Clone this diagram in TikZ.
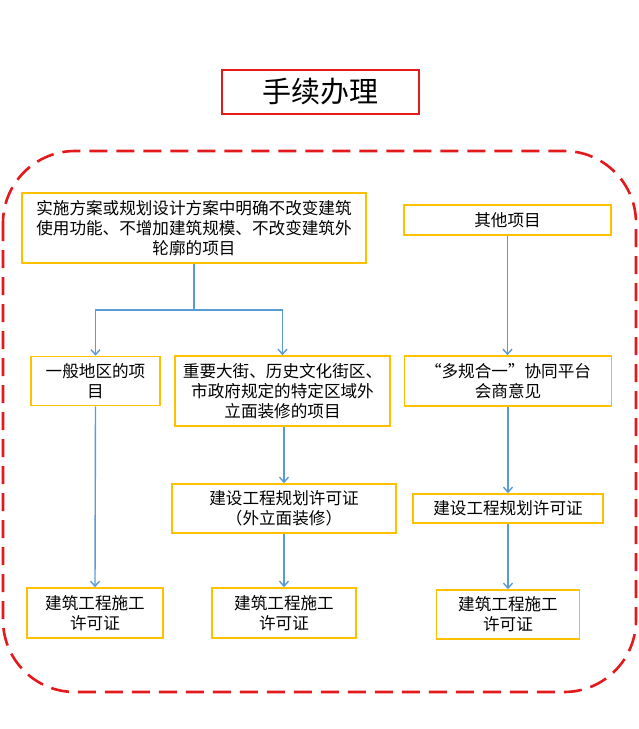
\documentclass[tikz,border=0pt]{standalone}
\usepackage{fontspec}
\newfontfamily\cjk{Noto Sans CJK SC}
\usepackage{tikz}
\usetikzlibrary{positioning,arrows.meta,calc}
\definecolor{boxgold}{HTML}{FFC000}
\definecolor{flowblue}{HTML}{5B9BD5}
\definecolor{framered}{HTML}{E3191C}

\begin{document}
\begin{tikzpicture}[x=1pt,y=-1pt,
    font=\cjk\fontsize{16.6}{20}\selectfont,
    stepbox/.style={draw=boxgold, line width=1.6pt, fill=white, align=center, inner sep=2pt},
    flow/.style={draw=flowblue, line width=1.4pt, -{Straight Barb[length=5pt,width=9pt]}},
    link/.style={draw=flowblue, line width=1.4pt}]
    \useasboundingbox (0,0) rectangle (639,729);
    % outer frame and title
    \draw[framered, line width=2.6pt, dash pattern=on 18pt off 9pt, rounded corners=72pt] (3,151) rectangle (636,692);
    \node[draw=framered, line width=2pt, minimum width=197pt, minimum height=44pt, font=\cjk\fontsize{29}{32}\selectfont] (title) at (320.5,92) {手续办理};
    % left branch
    \node[stepbox, minimum width=344pt, minimum height=70pt] (scheme) at (194,228) {实施方案或规划设计方案中明确不改变建筑\\使用功能、不增加建筑规模、不改变建筑外\\轮廓的项目};
    \node[stepbox, minimum width=129pt, minimum height=49pt] (general) at (95.5,381) {一般地区的项\\目};
    \node[stepbox, minimum width=215pt, minimum height=70pt] (street) at (282.5,391) {重要大街、历史文化街区、\\市政府规定的特定区域外\\立面装修的项目};
    \node[stepbox, minimum width=224pt, minimum height=49pt] (facade) at (284,508.5) {建设工程规划许可证\\（外立面装修）};
    \node[stepbox, minimum width=136pt, minimum height=50pt] (permitA) at (95,613) {建筑工程施工\\许可证};
    \node[stepbox, minimum width=144pt, minimum height=50pt] (permitB) at (284,613) {建筑工程施工\\许可证};
    % right branch
    \node[stepbox, minimum width=207pt, minimum height=30pt] (other) at (507.5,220) {其他项目};
    \node[stepbox, minimum width=207pt, minimum height=50pt] (platform) at (508,381) {“多规合一”协同平台\\会商意见};
    \node[stepbox, minimum width=190pt, minimum height=29pt] (planning) at (508,508.5) {建设工程规划许可证};
    \node[stepbox, minimum width=143pt, minimum height=49pt] (permitC) at (508,614.5) {建筑工程施工\\许可证};
    % connectors
    \coordinate (split) at (scheme.south |- 0,310);
    \draw[link] (scheme.south) -- (split);
    \draw[flow] (split) -| (general.north);
    \draw[flow] (split) -| (street.north);
    \draw[flow] (general.south) -- (permitA.north);
    \draw[flow] (street.south -| facade.north) -- (facade.north);
    \draw[flow] (facade.south) -- (permitB.north);
    \draw[flow] (other.south) -- (platform.north -| other.south);
    \draw[flow] (platform.south) -- (planning.north);
    \draw[flow] (planning.south) -- (permitC.north);
\end{tikzpicture}
\end{document}
